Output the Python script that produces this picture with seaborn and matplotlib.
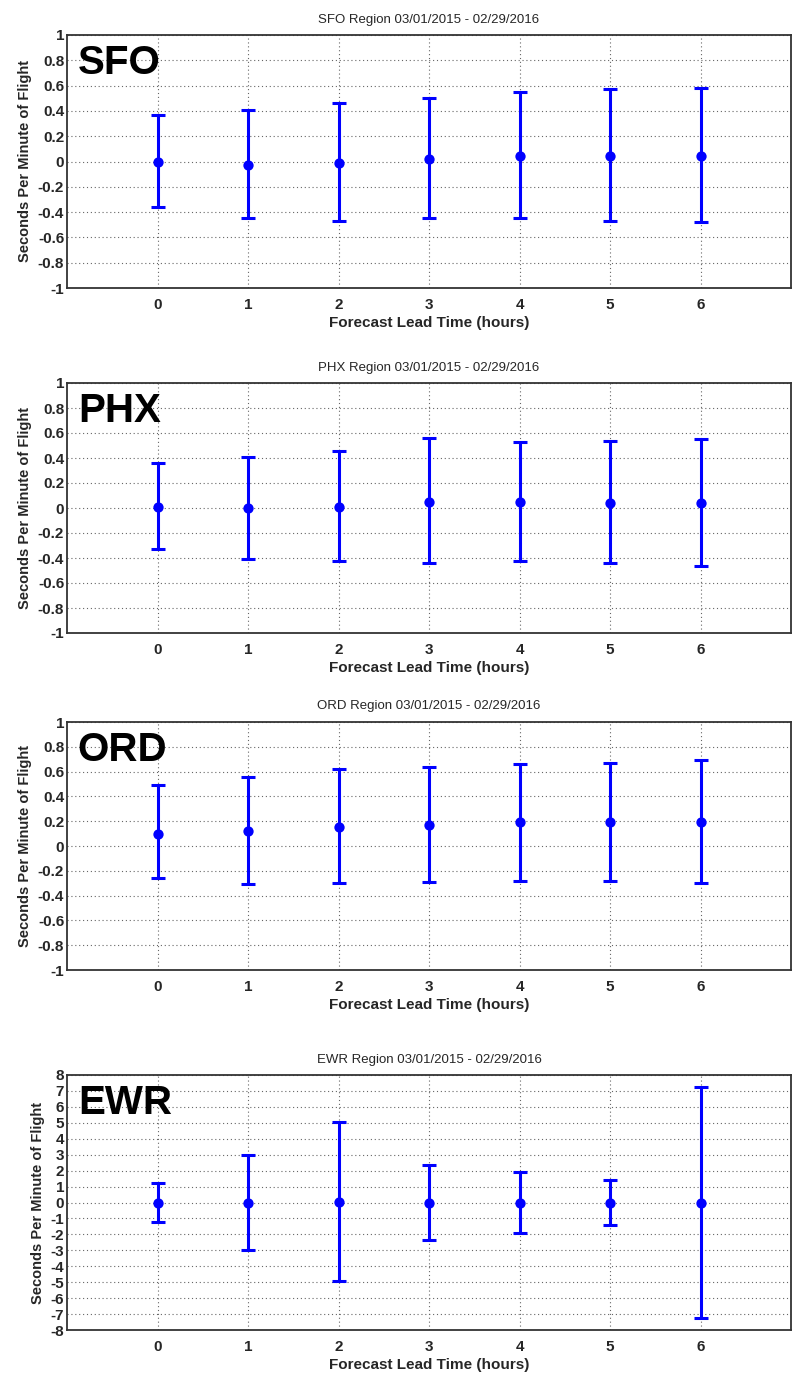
import numpy as np
import pandas as pd
import matplotlib
matplotlib.use("Agg")
import matplotlib.pyplot as plt
import seaborn as sns

lead_hours = [0, 1, 2, 3, 4, 5, 6]
regions = ["SFO", "PHX", "ORD", "EWR"]
title_suffix = " Region 03/01/2015 - 02/29/2016"

sfo_mean = [0.00, -0.03, -0.01, 0.02, 0.04, 0.04, 0.04]
sfo_upper = [0.37, 0.41, 0.46, 0.50, 0.55, 0.57, 0.58]
sfo_lower = [-0.36, -0.45, -0.47, -0.45, -0.45, -0.47, -0.48]

phx_mean = [0.01, 0.00, 0.01, 0.05, 0.05, 0.04, 0.04]
phx_upper = [0.36, 0.41, 0.46, 0.56, 0.53, 0.54, 0.55]
phx_lower = [-0.33, -0.41, -0.42, -0.44, -0.42, -0.44, -0.46]

ord_mean = [0.10, 0.12, 0.15, 0.17, 0.19, 0.19, 0.19]
ord_upper = [0.49, 0.56, 0.62, 0.64, 0.66, 0.67, 0.69]
ord_lower = [-0.26, -0.31, -0.30, -0.29, -0.28, -0.28, -0.30]

ewr_mean = [0.00, 0.00, 0.05, 0.00, 0.00, 0.00, -0.05]
ewr_upper = [1.25, 3.00, 5.05, 2.35, 1.90, 1.40, 7.25]
ewr_lower = [-1.25, -3.00, -4.95, -2.35, -1.90, -1.40, -7.25]

small_ticks = [-1, -0.8, -0.6, -0.4, -0.2, 0, 0.2, 0.4, 0.6, 0.8, 1]
small_labels = ["-1", "-0.8", "-0.6", "-0.4", "-0.2", "0", "0.2", "0.4", "0.6", "0.8", "1"]
ewr_ticks = [-8, -7, -6, -5, -4, -3, -2, -1, 0, 1, 2, 3, 4, 5, 6, 7, 8]
ewr_labels = [str(v) for v in ewr_ticks]

means = [sfo_mean, phx_mean, ord_mean, ewr_mean]
uppers = [sfo_upper, phx_upper, ord_upper, ewr_upper]
lowers = [sfo_lower, phx_lower, ord_lower, ewr_lower]
ylims = [(-1, 1), (-1, 1), (-1, 1), (-8, 8)]
yticks = [small_ticks] * 3 + [ewr_ticks]
ylabels = [small_labels] * 3 + [ewr_labels]

sns.set_theme(style="white")
plt.rcParams['font.family'] = ['Liberation Sans', 'DejaVu Sans']
plt.rcParams['axes.unicode_minus'] = False

W, H = 794, 1374
fig = plt.figure(figsize=(W / 100, H / 100), dpi=100)

boxes = [(35, 288), (383, 633), (722, 970), (1075, 1330)]
left_px, right_px = 67, 791

blue = (0, 0, 1)
for i, reg in enumerate(regions):
    top, bot = boxes[i]
    ax = fig.add_axes([left_px / W, 1 - bot / H, (right_px - left_px) / W, (bot - top) / H])
    df = pd.DataFrame({"hour": lead_hours, "mean": means[i],
                       "upper": uppers[i], "lower": lowers[i]})
    yerr = [df["mean"] - df["lower"], df["upper"] - df["mean"]]
    ax.errorbar(df["hour"], df["mean"], yerr=yerr, fmt="none", ecolor=blue,
                elinewidth=2.2, capsize=5, capthick=2.2, zorder=3)
    sns.scatterplot(data=df, x="hour", y="mean", ax=ax, color=blue, s=55,
                    edgecolor=blue, linewidth=0, zorder=4, legend=False)
    ax.set_xlim(-1, 7)
    ax.set_ylim(*ylims[i])
    ax.set_xticks(lead_hours)
    ax.set_yticks(yticks[i])
    ax.set_yticklabels(ylabels[i])
    ax.grid(True, linestyle=(0, (1, 2.5)), color="#666666", linewidth=0.8)
    for s in ax.spines.values():
        s.set_color("#333333")
        s.set_linewidth(1.3)
        s.set_visible(True)
    ax.tick_params(axis="y", labelsize=11, length=3, direction="in",
                   color="#333333", pad=2)
    ax.tick_params(axis="x", labelsize=11, length=3, direction="in",
                   color="#333333", pad=7)
    for lab in ax.get_xticklabels() + ax.get_yticklabels():
        lab.set_fontweight("bold")
    ax.set_xlabel("Forecast Lead Time (hours)", fontsize=11, fontweight="bold", labelpad=3)
    ax.set_ylabel("Seconds Per Minute of Flight", fontsize=10.5, fontweight="bold", labelpad=4)
    ax.set_title(reg + title_suffix, fontsize=9.5, pad=9)
    ax.text(0.015, 0.965, reg, transform=ax.transAxes, fontsize=29, fontweight="bold",
            va="top", ha="left", color="black")

fig.savefig("out.png", dpi=100)
